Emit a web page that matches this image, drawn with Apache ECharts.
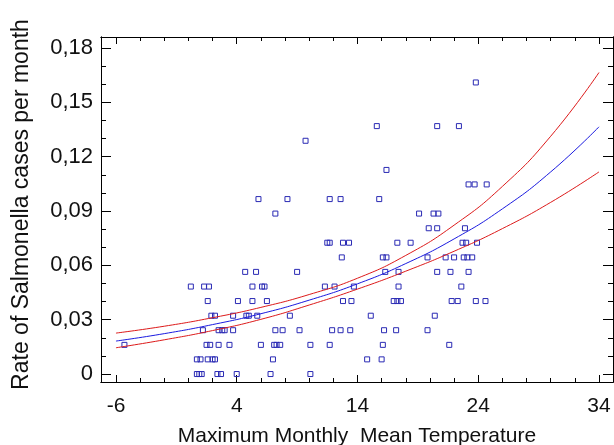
<!DOCTYPE html>
<html>
<head>
<meta charset="utf-8">
<script src="https://cdn.jsdelivr.net/npm/echarts@6/dist/echarts.min.js"></script>
<style>
  html, body { margin: 0; padding: 0; background: #fff; }
  #chart { width: 614px; height: 445px; }
</style>
</head>
<body>
<div id="chart"></div>
<script>
// axis ticks
const tickX = [-6, 4, 14, 24, 34];
const minorTickX = [-4, -2, 0, 2, 6, 8, 10, 12, 16, 18, 20, 22, 26, 28, 30, 32];
const tickY = [0, 0.03, 0.06, 0.09, 0.12, 0.15, 0.18];
const minorTickY = [0.01, 0.02, 0.04, 0.05, 0.07, 0.08, 0.10, 0.11, 0.13, 0.14, 0.16, 0.17];

// observed monthly rates (one row per rate level) and temperatures at that level
const caseRates = [0, 0.0081, 0.0161, 0.0242, 0.0322, 0.0403, 0.0483, 0.0564, 0.0644,
    0.0725, 0.0805, 0.0886, 0.0966, 0.1047, 0.1127, 0.1288, 0.1369, 0.161];
const caseTemps = [
    [0.7, 0.9, 1.1, 2.4, 2.7, 4.0, 6.8, 10.1],
    [0.7, 1.0, 1.6, 2.0, 2.2, 7.0, 14.8, 16.0],
    [-5.3, 1.5, 1.8, 2.5, 3.4, 6.0, 7.1, 7.3, 7.6, 10.1, 11.7, 16.1, 21.6],
    [1.2, 2.5, 2.8, 3.0, 3.7, 7.2, 7.8, 9.2, 11.9, 12.6, 13.4, 16.2, 17.2, 19.8],
    [1.9, 2.2, 3.7, 4.8, 5.0, 5.7, 8.4, 15.1, 20.4],
    [1.6, 4.1, 5.3, 6.5, 12.8, 13.5, 17.0, 17.3, 17.6, 21.8, 22.3, 23.8, 24.6],
    [0.2, 1.3, 1.7, 5.3, 6.1, 6.3, 11.3, 12.1, 13.7, 17.4, 22.6],
    [4.7, 5.6, 9.0, 16.3, 17.4, 20.6, 21.7, 23.2],
    [12.7, 16.1, 16.4, 19.8, 21.3, 22.0, 22.8, 23.1, 23.5],
    [11.5, 11.7, 12.8, 13.3, 17.3, 18.4, 22.7, 23.0, 23.9],
    [19.9, 20.6, 22.9],
    [7.2, 19.1, 20.3, 20.7],
    [5.8, 8.2, 11.7, 12.6, 15.8],
    [23.2, 23.7, 24.7],
    [16.4],
    [9.7],
    [15.6, 20.6, 22.4],
    [23.8]
];

// fitted curve and its limits, read at every 4 degrees
const curveTemps = [-6, -2, 2, 6, 10, 14, 18, 22, 26, 30, 34];
const fitRate = [0.0182, 0.0223, 0.0273, 0.0333, 0.0408, 0.0498, 0.0610, 0.0746, 0.0912, 0.1116, 0.1365];
const upperRate = [0.0226, 0.0264, 0.0311, 0.0368, 0.0439, 0.0529, 0.0655, 0.0822, 0.1036, 0.1313, 0.1665];
const lowerRate = [0.0145, 0.0189, 0.0240, 0.0302, 0.0381, 0.0469, 0.0568, 0.0678, 0.0803, 0.0948, 0.1116];

const xMin = -7.24, xMax = 35.16;
const yMin = -0.0044, yMax = 0.1861;
const font = "'Liberation Sans', Arial, sans-serif";
const textColor = '#111';

let points = [];
caseRates.forEach((r, i) => {
    caseTemps[i].forEach(t => points.push([t, r]));
});
const zipCurve = arr => curveTemps.map((t, i) => [t, arr[i]]);

function xAx(pos, ticks, len, extra) {
    return Object.assign({
        type: 'value', position: pos, min: xMin, max: xMax,
        splitLine: { show: false },
        axisLine: { show: true, onZero: false, lineStyle: { color: '#000', width: 1 } },
        axisTick: { inside: true, length: len, customValues: ticks, lineStyle: { color: '#000' } },
        axisLabel: { show: false }
    }, extra || {});
}
function yAx(pos, ticks, len, extra) {
    return Object.assign({
        type: 'value', position: pos, min: yMin, max: yMax,
        splitLine: { show: false },
        axisLine: { show: true, onZero: false, lineStyle: { color: '#000', width: 1 } },
        axisTick: { inside: true, length: len, customValues: ticks, lineStyle: { color: '#000' } },
        axisLabel: { show: false }
    }, extra || {});
}

var chart = echarts.init(document.getElementById('chart'));
var option = {
    backgroundColor: '#fff',
    animation: false,
    grid: { left: 101, right: 1, top: 37, bottom: 63, containLabel: false, outerBoundsMode: 'none' },
    xAxis: [
        xAx('bottom', tickX, 7, {
            name: 'Maximum Monthly  Mean Temperature',
            nameLocation: 'middle',
            nameGap: 44,
            nameTextStyle: { fontFamily: font, fontSize: 21, color: textColor },
            axisLabel: {
                show: true, customValues: tickX, margin: 14,
                fontFamily: font, fontSize: 21, color: textColor
            }
        }),
        xAx('bottom', minorTickX, 4),
        xAx('top', tickX, 7),
        xAx('top', minorTickX, 4)
    ],
    yAxis: [
        yAx('left', tickY, 10, {
            name: 'Rate of Salmonella cases per month',
            nameLocation: 'middle',
            nameGap: 68,
            nameTextStyle: { fontFamily: font, fontSize: 23, color: textColor, padding: [0, 0, 0, 10] },
            axisLabel: {
                show: true, customValues: tickY, margin: 8,
                fontFamily: font, fontSize: 22, color: textColor,
                formatter: v => v === 0 ? '0' : v.toFixed(2).replace('.', ',')
            }
        }),
        yAx('left', minorTickY, 5),
        yAx('right', tickY, 10),
        yAx('right', minorTickY, 5)
    ],
    series: [
        {
            type: 'scatter',
            data: points,
            symbol: 'rect',
            symbolSize: 5,
            itemStyle: { color: 'rgba(255,255,255,0)', borderColor: '#2a2ab4', borderWidth: 1, opacity: 1 }
        },
        {
            type: 'line', data: zipCurve(upperRate), smooth: true, showSymbol: false,
            lineStyle: { color: '#dd1a1a', width: 1 }
        },
        {
            type: 'line', data: zipCurve(lowerRate), smooth: true, showSymbol: false,
            lineStyle: { color: '#dd1a1a', width: 1 }
        },
        {
            type: 'line', data: zipCurve(fitRate), smooth: true, showSymbol: false,
            lineStyle: { color: '#1a1ae0', width: 1 }
        }
    ]
};
chart.setOption(option);
</script>
</body>
</html>
